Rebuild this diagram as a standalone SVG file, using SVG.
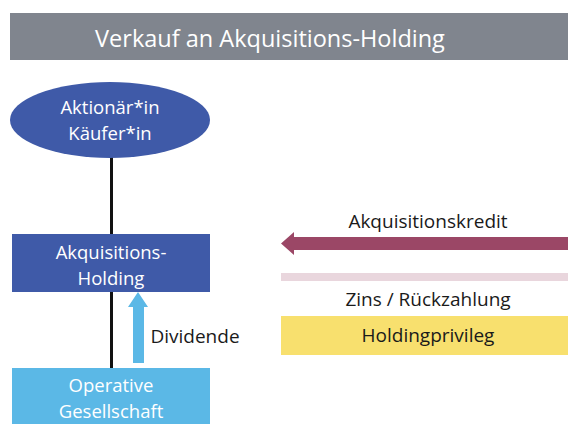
<svg xmlns="http://www.w3.org/2000/svg" width="568" height="424" viewBox="0 0 568 424">
<style>
text{font-family:"Open Sans","Noto Sans","Liberation Sans",sans-serif;text-anchor:middle}
.w{fill:#ffffff;font-size:18.5px}
.d{fill:#1a1a1a;font-size:19px}
</style>
<rect width="568" height="424" fill="#ffffff"/>
<g id="title">
<rect x="10" y="13" width="558" height="47" fill="#80858e"/>
<text x="270" y="47" fill="#ffffff" style="font-size:23.5px">Verkauf an Akquisitions-Holding</text>
</g>
<g id="connectors">
<line x1="111.5" y1="157" x2="111.5" y2="235" stroke="#111" stroke-width="3"/>
<line x1="111.5" y1="291" x2="111.5" y2="369" stroke="#111" stroke-width="3"/>
<polygon points="138,292 148,307 144,307 144,363 133,363 133,307 128,307" fill="#5bb8e6"/>
<polygon points="281,243.5 294,232 294,237 568,237 568,250 294,250 294,255" fill="#9b4766"/>
<rect x="281" y="273" width="287" height="8" fill="#e9d6dd"/>
</g>
<g id="aktionaer">
<ellipse cx="110" cy="120" rx="100" ry="38" fill="#3f5aa8"/>
<text class="w" x="110" y="114">Aktionär*in</text>
<text class="w" x="110" y="139.5">Käufer*in</text>
</g>
<g id="holding">
<rect x="12" y="234" width="198" height="58" fill="#3f5aa8"/>
<text class="w" x="111" y="259">Akquisitions-</text>
<text class="w" x="111" y="284.5">Holding</text>
</g>
<g id="operative">
<rect x="12" y="368" width="198" height="56" fill="#5bb8e6"/>
<text class="w" x="111" y="392">Operative</text>
<text class="w" x="111" y="417.5">Gesellschaft</text>
</g>
<g id="labels">
<text class="d" x="195" y="343">Dividende</text>
<text class="d" x="428" y="228">Akquisitionskredit</text>
<text class="d" x="428" y="306">Zins / Rückzahlung</text>
</g>
<g id="holdingprivileg">
<rect x="281" y="316" width="287" height="39" fill="#f8e06e"/>
<text class="d" x="428" y="342">Holdingprivileg</text>
</g>
</svg>
